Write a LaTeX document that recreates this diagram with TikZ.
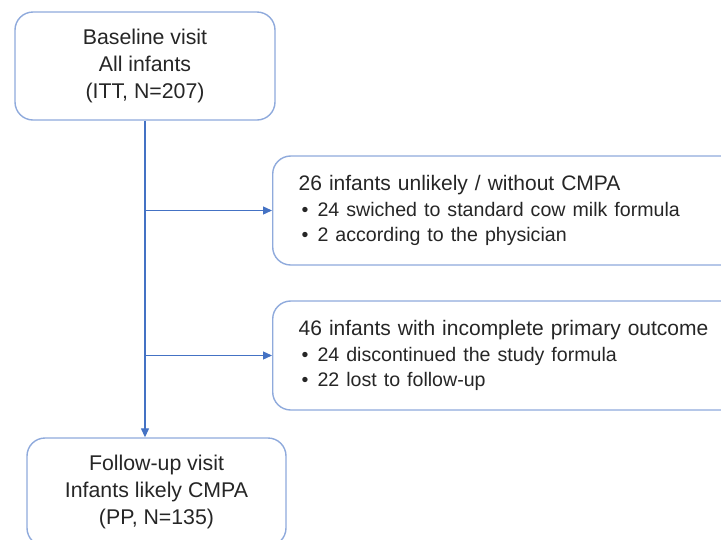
\documentclass[tikz,border=0pt]{standalone}
\usepackage{fontspec}
\setmainfont{Liberation Sans}
\usetikzlibrary{arrows.meta}
\definecolor{txt}{HTML}{262626}
\definecolor{conn}{HTML}{4472C4}
\definecolor{boxline}{HTML}{8FAADC}
\newcommand{\bitem}{\fontsize{19.6}{25.5}\selectfont\hspace*{3pt}\textbullet\hspace{9pt}}
\begin{document}
\begin{tikzpicture}[x=1pt,y=-1pt,
  box/.style={draw=boxline, line width=1.4pt, rounded corners=18pt, fill=white,
    text=txt, inner sep=0pt},
  cbox/.style={box, align=center, font=\fontsize{21.3}{27}\selectfont},
  lbox/.style={box, align=left, text width=426pt, inner xsep=26pt, font=\fontsize{21}{25.5}\selectfont},
  conn/.style={draw=conn, line width=1.3pt, -{Triangle[length=9pt,width=8pt]}}]
\useasboundingbox (0,0) rectangle (721,539);
\node[cbox, minimum width=260pt, minimum height=108pt] (top) at (145,66)
  {Baseline visit\\All infants\\(ITT, N=207)};
\node[lbox, minimum height=109pt, anchor=west] (r1) at (272,210.5)
  {26 infants unlikely / without CMPA\\
   {\bitem 24 swiched to standard cow milk formula}\\
   {\bitem 2 according to the physician}};
\node[lbox, minimum height=109pt, anchor=west] (r2) at (272,355.5)
  {46 infants with incomplete primary outcome\\
   {\bitem 24 discontinued the study formula}\\
   {\bitem 22 lost to follow-up}};
\node[cbox, minimum width=259pt, minimum height=108pt] (bot) at (156.5,492)
  {Follow-up visit\\Infants likely CMPA\\(PP, N=135)};
\coordinate (a1) at (top.south |- r1.west);
\coordinate (a2) at (top.south |- r2.west);
\draw[conn] (top.south) -- (top.south |- bot.north);
\draw[conn] (a1) -- (r1.west);
\draw[conn] (a2) -- (r2.west);
\end{tikzpicture}
\end{document}
